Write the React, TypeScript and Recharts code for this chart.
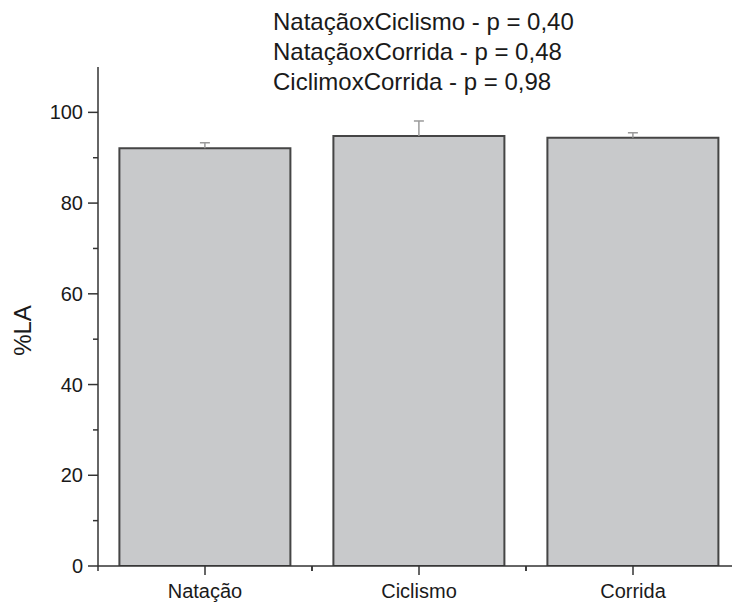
import React from 'react';
import { BarChart, Bar, XAxis, YAxis } from 'recharts';

const categories = ['Natação', 'Ciclismo', 'Corrida'];
const means = [92.1, 94.8, 94.4];
const upperErrors = [1.2, 3.3, 1.1];
const yTicks = [0, 10, 20, 30, 40, 50, 60, 70, 80, 90, 100];
const annotations = [
  'NataçãoxCiclismo - p = 0,40',
  'NataçãoxCorrida - p = 0,48',
  'CiclimoxCorrida - p = 0,98',
];

const data = categories.map((c, i) => ({ name: c, value: means[i], err: upperErrors[i] }));

const FONT = '"Liberation Sans", Arial, sans-serif';
const AXIS = '#333333';
const TEXT = '#1a1a1a';

const YTick = (props: any) => {
  const { x, y, payload } = props;
  const major = payload.value % 20 === 0;
  return (
    <g>
      <line x1={x - (major ? 10 : 5)} x2={x} y1={y} y2={y} stroke={AXIS} strokeWidth={1.5} />
      {major && (
        <text x={x - 15} y={y} dy={7} textAnchor="end" fontSize={20} fontFamily={FONT} fill={TEXT}>
          {payload.value}
        </text>
      )}
    </g>
  );
};

const XTick = (props: any) => {
  const { x, y, payload, width, visibleTicksCount } = props;
  const band = (width ?? 642) / (visibleTicksCount ?? categories.length);
  return (
    <g>
      <line x1={x} x2={x} y1={y} y2={y + 9} stroke={AXIS} strokeWidth={1.5} />
      <line x1={x - band / 2} x2={x - band / 2} y1={y} y2={y + 5} stroke={AXIS} strokeWidth={1.5} />
      <line x1={x + band / 2} x2={x + band / 2} y1={y} y2={y + 5} stroke={AXIS} strokeWidth={1.5} />
      <text x={x} y={y + 32} textAnchor="middle" fontSize={20} fontFamily={FONT} fill={TEXT}>
        {payload.value}
      </text>
    </g>
  );
};

const YLabel = (props: any) => {
  const { viewBox } = props;
  const cx = viewBox.x + 31;
  const cy = viewBox.y + viewBox.height / 2 + 14;
  return (
    <text
      x={cx}
      y={cy}
      transform={`rotate(-90, ${cx}, ${cy})`}
      textAnchor="middle"
      fontSize={24}
      fontFamily={FONT}
      fill={TEXT}
    >
      %LA
    </text>
  );
};

const ErrShape = (props: any) => {
  const { x, y, width, height } = props;
  if (x == null || y == null) return null;
  const cx = x + width / 2;
  return (
    <g>
      <line x1={cx} x2={cx} y1={y + height} y2={y} stroke="#9a9a9a" strokeWidth={1.5} />
      <line x1={cx - 5} x2={cx + 5} y1={y} y2={y} stroke="#9a9a9a" strokeWidth={1.5} />
    </g>
  );
};

export default function App() {
  return (
    <div
      style={{
        position: 'absolute',
        left: 0,
        top: 0,
        width: 732,
        height: 602,
        overflow: 'hidden',
        background: '#ffffff',
      }}
    >
      <BarChart
        width={760}
        height={602}
        data={data}
        margin={{ top: 67, right: 20, bottom: 0, left: 0 }}
        barCategoryGap="10%"
      >
        <XAxis
          dataKey="name"
          height={36}
          tickSize={0}
          tickMargin={0}
          tickLine={false}
          axisLine={{ stroke: AXIS, strokeWidth: 1.5 }}
          tick={<XTick />}
          interval={0}
        />
        <YAxis
          width={98}
          domain={[0, 110]}
          ticks={yTicks}
          tickSize={0}
          tickMargin={0}
          tickLine={false}
          axisLine={{ stroke: AXIS, strokeWidth: 1.5 }}
          tick={<YTick />}
          interval={0}
          allowDataOverflow
          label={<YLabel />}
        />
        <Bar
          dataKey="value"
          stackId="s"
          fill="#c8c9cb"
          stroke="#454545"
          strokeWidth={2}
          isAnimationActive={false}
        />
        <Bar dataKey="err" stackId="s" shape={<ErrShape />} isAnimationActive={false} />
      </BarChart>
      <svg
        width={732}
        height={100}
        style={{ position: 'absolute', left: 0, top: 0, pointerEvents: 'none' }}
      >
        {annotations.map((t, i) => (
          <text key={t} x={273} y={30 + i * 30} fontSize={24} fontFamily={FONT} fill={TEXT}>
            {t}
          </text>
        ))}
      </svg>
    </div>
  );
}
